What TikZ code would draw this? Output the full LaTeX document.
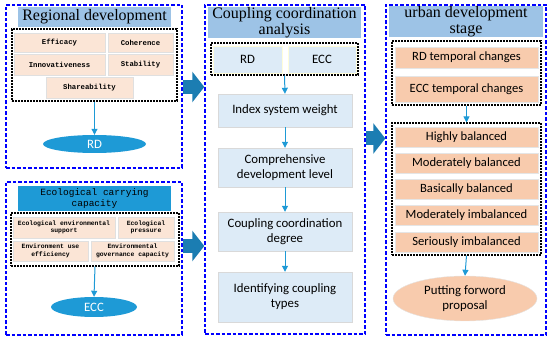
\documentclass[tikz,border=0pt]{standalone}
\usepackage{fontspec}
\setmainfont{Liberation Serif}
\setsansfont{Carlito}
\newfontfamily\boxmono{Liberation Mono}
\usetikzlibrary{arrows.meta,shapes.geometric}
\definecolor{titleblue}{HTML}{9DC3E6}
\definecolor{deepblue}{HTML}{1E9AD6}
\definecolor{arrowteal}{HTML}{1B7DB2}
\definecolor{paleblue}{HTML}{DDEBF7}
\definecolor{peach}{HTML}{F8CBAD}
\definecolor{lightpeach}{HTML}{FBE5D6}
\begin{document}
\begin{tikzpicture}[x=1pt,y=-1pt,
  panel/.style={draw=blue,line width=1.4pt,dash pattern=on 3.5pt off 2pt,minimum width=#1},
  group/.style={draw=black,line width=1.1pt,dash pattern=on 2pt off 1pt,minimum width=#1},
  ttl/.style={fill=titleblue,align=center,inner sep=0pt,font=\fontsize{16}{16.5}\selectfont},
  item/.style={fill=lightpeach,draw=black!12,inner sep=0pt,align=center,font=\boxmono\bfseries\fontsize{7.3}{8}\selectfont},
  sitem/.style={item,font=\boxmono\bfseries\fontsize{6.4}{7.5}\selectfont},
  stepbox/.style={fill=paleblue,draw=black!15,inner sep=0pt,align=center,minimum width=134,font=\sffamily\fontsize{12.8}{15}\selectfont},
  level/.style={fill=peach,draw=black!10,inner sep=0pt,align=center,minimum width=143,font=\sffamily\fontsize{12.6}{14}\selectfont},
  arr/.style={-{Triangle[length=6pt,width=6pt]},line width=1pt,deepblue},
  bigarr/.style={-{Triangle[length=12pt,width=30pt]},line width=14pt,arrowteal}]
  \useasboundingbox (0,0) rectangle (550,339);
  % outer panels
  \node[panel=176,minimum height=163] (lt) at (94,86.5) {};
  \node[panel=176,minimum height=153] (lb) at (94,258.5) {};
  \node[panel=160,minimum height=329] (mid) at (285,169.5) {};
  \node[panel=160,minimum height=330] (rt) at (466,170) {};
  % Regional development
  \node[ttl,minimum width=153,minimum height=20] (rdttl) at (94.5,17) {Regional development};
  \node[group=165,minimum height=72] (g1) at (94.5,65) {};
  \node[item,minimum width=91,minimum height=19] (eff) at (59.5,42.5) {Efficacy};
  \node[item,minimum width=65,minimum height=19] (coh) at (140.5,42.5) {Coherence};
  \node[item,minimum width=91,minimum height=21] (inn) at (59.5,64.5) {Innovativeness};
  \node[item,minimum width=65,minimum height=21] (sta) at (140.5,64.5) {Stability};
  \node[item,minimum width=87,minimum height=21] (sha) at (89.5,87.5) {Shareability};
  \node[ellipse,fill=deepblue,text=white,inner sep=0pt,minimum width=103,minimum height=18,font=\sffamily\fontsize{12.8}{15}\selectfont] (rdell) at (94.5,144) {RD};
  % Ecological carrying capacity
  \node[ttl,fill=deepblue,minimum width=153,minimum height=25,font=\boxmono\fontsize{9.5}{10.5}\selectfont] (eccttl) at (94.5,198.5) {Ecological carrying\\capacity};
  \node[group=168,minimum height=53] (g2) at (95,239.5) {};
  \node[sitem,minimum width=102,minimum height=21] (ees) at (64,227.5) {Ecological environmental\\support};
  \node[sitem,minimum width=56,minimum height=21] (epr) at (146,227.5) {Ecological\\pressure};
  \node[sitem,minimum width=75,minimum height=20] (eue) at (50.5,251) {Environment use\\efficiency};
  \node[sitem,minimum width=83,minimum height=20] (egc) at (132.5,251) {Environmental\\governance capacity};
  \node[ellipse,fill=deepblue,text=white,inner sep=0pt,minimum width=86,minimum height=20,font=\sffamily\fontsize{12.8}{15}\selectfont] (eccell) at (94,307) {ECC};
  % Coupling coordination analysis
  \node[ttl,minimum width=153,minimum height=31] (ccattl) at (284.5,22.5) {Coupling coordination\\analysis};
  \node[group=147,minimum height=32] (g3) at (284.5,59) {};
  \node[stepbox,minimum width=69,minimum height=27,draw=yellow!15] (rdin) at (247.5,59.5) {RD};
  \node[stepbox,minimum width=68,minimum height=27,draw=yellow!15] (eccin) at (322,59.5) {ECC};
  \node[stepbox,minimum height=33] (isw) at (285,110.5) {Index system weight};
  \node[stepbox,minimum height=39] (cdl) at (285,167.5) {Comprehensive\\development level};
  \node[stepbox,minimum height=39] (ccd) at (285,231.5) {Coupling coordination\\degree};
  \node[stepbox,minimum height=50] (ict) at (285,297) {Identifying coupling\\types};
  % urban development stage
  \node[ttl,minimum width=154,minimum height=29] (udsttl) at (466,21.5) {urban development\\stage};
  \node[group=149,minimum height=64] (g4) at (466.5,73) {};
  \node[level,minimum height=21] (rdt) at (466.5,57.5) {RD temporal changes};
  \node[level,minimum height=26] (ecct) at (466.5,89) {ECC temporal changes};
  \node[group=149,minimum height=132] (g5) at (466.5,189) {};
  \node[level,minimum height=20] (hb) at (466.5,137.5) {Highly balanced};
  \node[level,minimum height=20] (mb) at (466.5,163.5) {Moderately balanced};
  \node[level,minimum height=20] (bb) at (466.5,189) {Basically balanced};
  \node[level,minimum height=20] (mi) at (466.5,215) {Moderately imbalanced};
  \node[level,minimum height=20] (si) at (466.5,242) {Seriously imbalanced};
  \node[ellipse,fill=peach,draw=black!10,inner sep=0pt,align=center,minimum width=144,minimum height=45,font=\sffamily\fontsize{12.8}{15}\selectfont] (prop) at (465,298.5) {Putting forword\\proposal};
  % Flow steps
  \draw[arr] (g1.south) -- (rdell.north);
  \draw[arr] (g2.south) -- (eccell.north);
  \draw[arr] (g3.south) -- (isw.north);
  \draw[arr] (isw) -- (cdl);
  \draw[arr] (cdl) -- (ccd);
  \draw[arr] (ccd) -- (ict);
  \draw[arr] (g4.south) -- (g5.north);
  \draw[arr] (g5.south) -- (prop.north);
  \draw[bigarr] (lt.east |- 0,87) -- (mid.west |- 0,87);
  \draw[bigarr] (lb.east |- 0,246) -- (mid.west |- 0,246);
  \draw[bigarr] (mid.east |- 0,138.5) -- (rt.west |- 0,138.5);
\end{tikzpicture}
\end{document}
